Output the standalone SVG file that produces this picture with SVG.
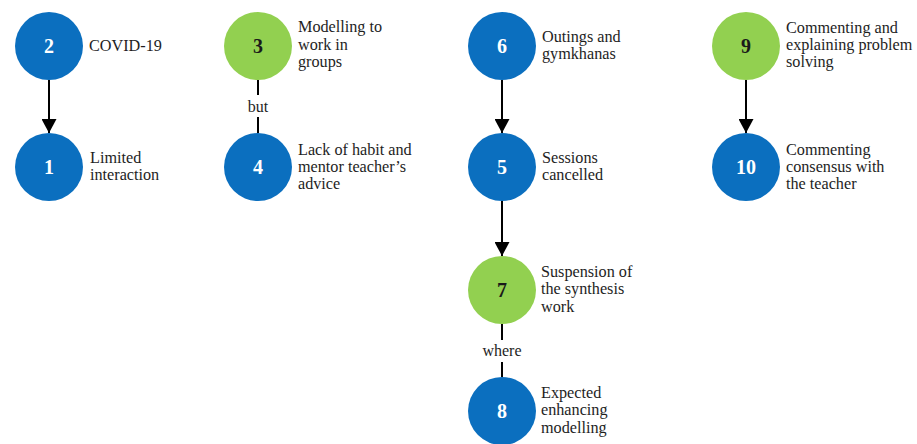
<svg xmlns="http://www.w3.org/2000/svg" width="917" height="444" viewBox="0 0 917 444">
  <style>
    .blue { fill: #0b6fbf; }
    .green { fill: #92d050; }
    .num { font-family: "Liberation Serif", "DejaVu Serif", serif; font-size: 20px; font-weight: bold; text-anchor: middle; }
    .num-light { fill: #ffffff; }
    .num-dark { fill: #1a1a1a; }
    .lbl { font-family: "Liberation Serif", "DejaVu Serif", serif; font-size: 16.2px; fill: #1e1e1e; }
    .edge-lbl { font-family: "Liberation Serif", "DejaVu Serif", serif; font-size: 16px; fill: #1e1e1e; text-anchor: middle; }
    .edge { stroke: #000000; stroke-width: 2; fill: none; }
  </style>
  <defs>
    <marker id="arrow" viewBox="0 0 14 15" refX="14" refY="7.5" markerWidth="14" markerHeight="15" markerUnits="userSpaceOnUse" orient="auto">
      <path d="M0,0 L14,7.5 L0,15 Z" fill="#000000"/>
    </marker>
  </defs>

  <rect width="917" height="444" fill="#ffffff"/>

  <!-- connectors -->
  <g id="connectors">
    <line class="edge" x1="49" y1="80" x2="49" y2="133" marker-end="url(#arrow)"/>
    <line class="edge" x1="258" y1="80" x2="258" y2="95"/>
    <line class="edge" x1="258" y1="117" x2="258" y2="133"/>
    <text class="edge-lbl" x="258" y="112">but</text>
    <line class="edge" x1="502" y1="80" x2="502" y2="133" marker-end="url(#arrow)"/>
    <line class="edge" x1="502" y1="201" x2="502" y2="256" marker-end="url(#arrow)"/>
    <line class="edge" x1="502" y1="324" x2="502" y2="340"/>
    <line class="edge" x1="502" y1="362" x2="502" y2="377"/>
    <text class="edge-lbl" x="502" y="356">where</text>
    <line class="edge" x1="746" y1="80" x2="746" y2="133" marker-end="url(#arrow)"/>
  </g>

  <!-- nodes -->
  <g id="node-2">
    <circle class="blue" cx="49" cy="46" r="34"/>
    <text class="num num-light" x="49" y="53">2</text>
    <text class="lbl" x="89" y="51">COVID-19</text>
  </g>
  <g id="node-1">
    <circle class="blue" cx="49" cy="167" r="34"/>
    <text class="num num-light" x="49" y="174">1</text>
    <text class="lbl" x="90" y="163">Limited</text>
    <text class="lbl" x="90" y="180">interaction</text>
  </g>

  <g id="node-3">
    <circle class="green" cx="258" cy="46" r="34"/>
    <text class="num num-dark" x="258" y="53">3</text>
    <text class="lbl" x="298" y="32">Modelling to</text>
    <text class="lbl" x="298" y="50">work in</text>
    <text class="lbl" x="298" y="67">groups</text>
  </g>
  <g id="node-4">
    <circle class="blue" cx="258" cy="167" r="34"/>
    <text class="num num-light" x="258" y="174">4</text>
    <text class="lbl" x="298" y="155">Lack of habit and</text>
    <text class="lbl" x="298" y="172">mentor teacher’s</text>
    <text class="lbl" x="298" y="189">advice</text>
  </g>

  <g id="node-6">
    <circle class="blue" cx="502" cy="46" r="34"/>
    <text class="num num-light" x="502" y="53">6</text>
    <text class="lbl" x="542" y="42">Outings and</text>
    <text class="lbl" x="542" y="59">gymkhanas</text>
  </g>
  <g id="node-5">
    <circle class="blue" cx="502" cy="167" r="34"/>
    <text class="num num-light" x="502" y="174">5</text>
    <text class="lbl" x="542" y="163">Sessions</text>
    <text class="lbl" x="542" y="180">cancelled</text>
  </g>
  <g id="node-7">
    <circle class="green" cx="502" cy="290" r="34"/>
    <text class="num num-dark" x="502" y="297">7</text>
    <text class="lbl" x="541" y="277">Suspension of</text>
    <text class="lbl" x="541" y="294">the synthesis</text>
    <text class="lbl" x="541" y="312">work</text>
  </g>
  <g id="node-8">
    <circle class="blue" cx="502" cy="411" r="34"/>
    <text class="num num-light" x="502" y="418">8</text>
    <text class="lbl" x="541" y="398">Expected</text>
    <text class="lbl" x="541" y="415">enhancing</text>
    <text class="lbl" x="541" y="433">modelling</text>
  </g>

  <g id="node-9">
    <circle class="green" cx="746" cy="46" r="34"/>
    <text class="num num-dark" x="746" y="53">9</text>
    <text class="lbl" x="786" y="33">Commenting and</text>
    <text class="lbl" x="786" y="50">explaining problem</text>
    <text class="lbl" x="786" y="67">solving</text>
  </g>
  <g id="node-10">
    <circle class="blue" cx="746" cy="167" r="34"/>
    <text class="num num-light" x="746" y="174">10</text>
    <text class="lbl" x="786" y="155">Commenting</text>
    <text class="lbl" x="786" y="172">consensus with</text>
    <text class="lbl" x="786" y="189">the teacher</text>
  </g>
</svg>
